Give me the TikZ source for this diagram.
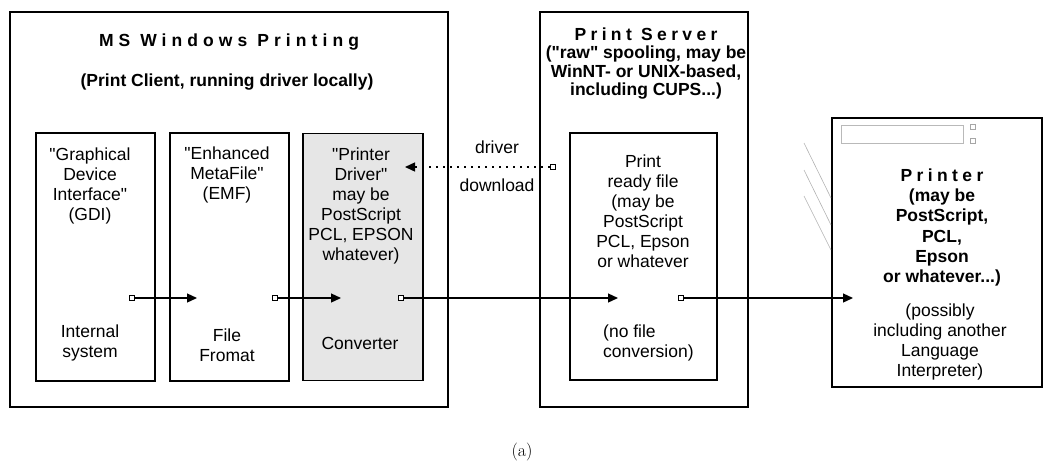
\documentclass[tikz,border=0pt]{standalone}
\usepackage{fontspec}
\usetikzlibrary{arrows.meta}
\newfontfamily\arial{Liberation Sans}
\newfontfamily\arialsp[LetterSpace=25]{Liberation Sans}
\newfontfamily\arialwide[LetterSpace=29]{Liberation Sans}
\definecolor{drvgray}{RGB}{230,230,230}
\begin{document}
\begin{tikzpicture}
		[x=1pt,y=-1pt,
		frame/.style={draw,line width=2.6pt,inner sep=0pt},
		stage/.style={draw,line width=1.3pt,inner sep=0pt},
		port/.style={draw,fill=white,line width=1pt,minimum size=5.5pt,inner sep=0pt},
		txt/.style={align=center,inner sep=0pt,font=\arial\fontsize{17.5}{20}\selectfont},
		flow/.style={line width=1.3pt,-{Triangle[length=10pt,width=9pt]}}]
		\useasboundingbox (0,0) rectangle (1045,475);

		\node[frame,minimum width=438pt,minimum height=395pt] (ms) at (229,209.5) {};
		\node[frame,minimum width=208pt,minimum height=395pt] (srv) at (644,209.5) {};
		\node[draw,line width=1.8pt,minimum width=210pt,minimum height=269pt] (prn) at (937,252.5) {};

		\node[stage,minimum width=119pt,minimum height=248pt] (gdi) at (95.5,257) {};
		\node[stage,minimum width=119pt,minimum height=248pt] (emf) at (229.5,257) {};
		\node[stage,fill=drvgray,minimum width=120pt,minimum height=247pt] (drv) at (363,257) {};
		\node[stage,minimum width=147pt,minimum height=247pt] (rdy) at (643.5,256.5) {};

		% titles
		\node[txt,font=\arialwide\bfseries\fontsize{17.5}{20}\selectfont] (t-ms) at (229,42) {MS Windows Printing};
		\node[txt,font=\arial\bfseries\fontsize{17.5}{20}\selectfont] (s-ms) at (227,82) {(Print Client, running driver locally)};
		\node[txt,font=\arial\bfseries\fontsize{17.5}{18.4}\selectfont] (t-srv) at (646,63.5)
			{{\arialsp Print Server}\\("raw" spooling, may be\\WinNT- or UNIX-based,\\including CUPS...)};
		\node[txt,font=\arial\bfseries\fontsize{17.5}{20.2}\selectfont] (t-prn) at (942,227.5)
			{{\arialsp Printer}\\(may be\\PostScript,\\PCL,\\Epson\\or whatever...)};

		% stage texts
		\node[txt] (l-gdi) at (90,185.5) {"Graphical\\Device\\Interface"\\(GDI)};
		\node[txt] (b-gdi) at (90,343) {Internal\\system};
		\node[txt] (l-emf) at (227,175) {"Enhanced\\MetaFile"\\(EMF)};
		\node[txt] (b-emf) at (227,345) {File\\Fromat};
		\node[txt] (l-drv) at (361,205.5) {"Printer\\Driver"\\may be\\PostScript\\PCL, EPSON\\whatever)};
		\node[txt] (b-drv) at (360,343) {Converter};
		\node[txt] (l-rdy) at (643,211.5) {Print\\ready file\\(may be\\PostScript\\PCL, Epson\\or whatever};
		\node[txt,align=left,anchor=west] (b-rdy) at (603,342.5) {(no file\\conversion)};
		\node[txt] (b-prn) at (940,341.5) {(possibly\\including another\\Language\\Interpreter)};

		% printer panel
		\draw[gray!55,line width=1pt] (841,125) rectangle (963,143);
		\node[draw=gray!70,line width=0.8pt,minimum size=4.5pt,inner sep=0pt] (k1) at (973,127) {};
		\node[draw=gray!70,line width=0.8pt,minimum size=4.5pt,inner sep=0pt] (k2) at (973,141) {};
		\draw[gray!60,line width=0.6pt] (804,143) -- (831,198);
		\draw[gray!60,line width=0.6pt] (804,170) -- (831,225);
		\draw[gray!60,line width=0.6pt] (804,196) -- (831,250);

		% ports and flow
		\node[port] (p1) at (132,298) {};
		\node[port] (p2) at (275,298) {};
		\node[port] (p3) at (401,298) {};
		\node[port] (p4) at (681,298) {};
		\node[port] (pd) at (553,167) {};
		\coordinate (a1) at (197,298);
		\coordinate (a2) at (341,298);
		\coordinate (a3) at (618,298);
		\coordinate (a4) at (853,298);
		\coordinate (ad) at (405,167);

		\draw[flow] (p1) -- (a1);
		\draw[flow] (p2) -- (a2);
		\draw[flow] (p3) -- (a3);
		\draw[flow] (p4) -- (a4);
		\draw[line width=1.4pt,dash pattern=on 1.4pt off 5.6pt,-{Triangle[length=10pt,width=9pt]}] (pd) -- (ad);
		\node[txt] (dl1) at (497,147) {driver};
		\node[txt] (dl2) at (497,185) {download};

		\node[inner sep=0pt,font=\fontsize{18}{20}\selectfont] (cap) at (522,452) {(a)};

	\end{tikzpicture}
\end{document}
